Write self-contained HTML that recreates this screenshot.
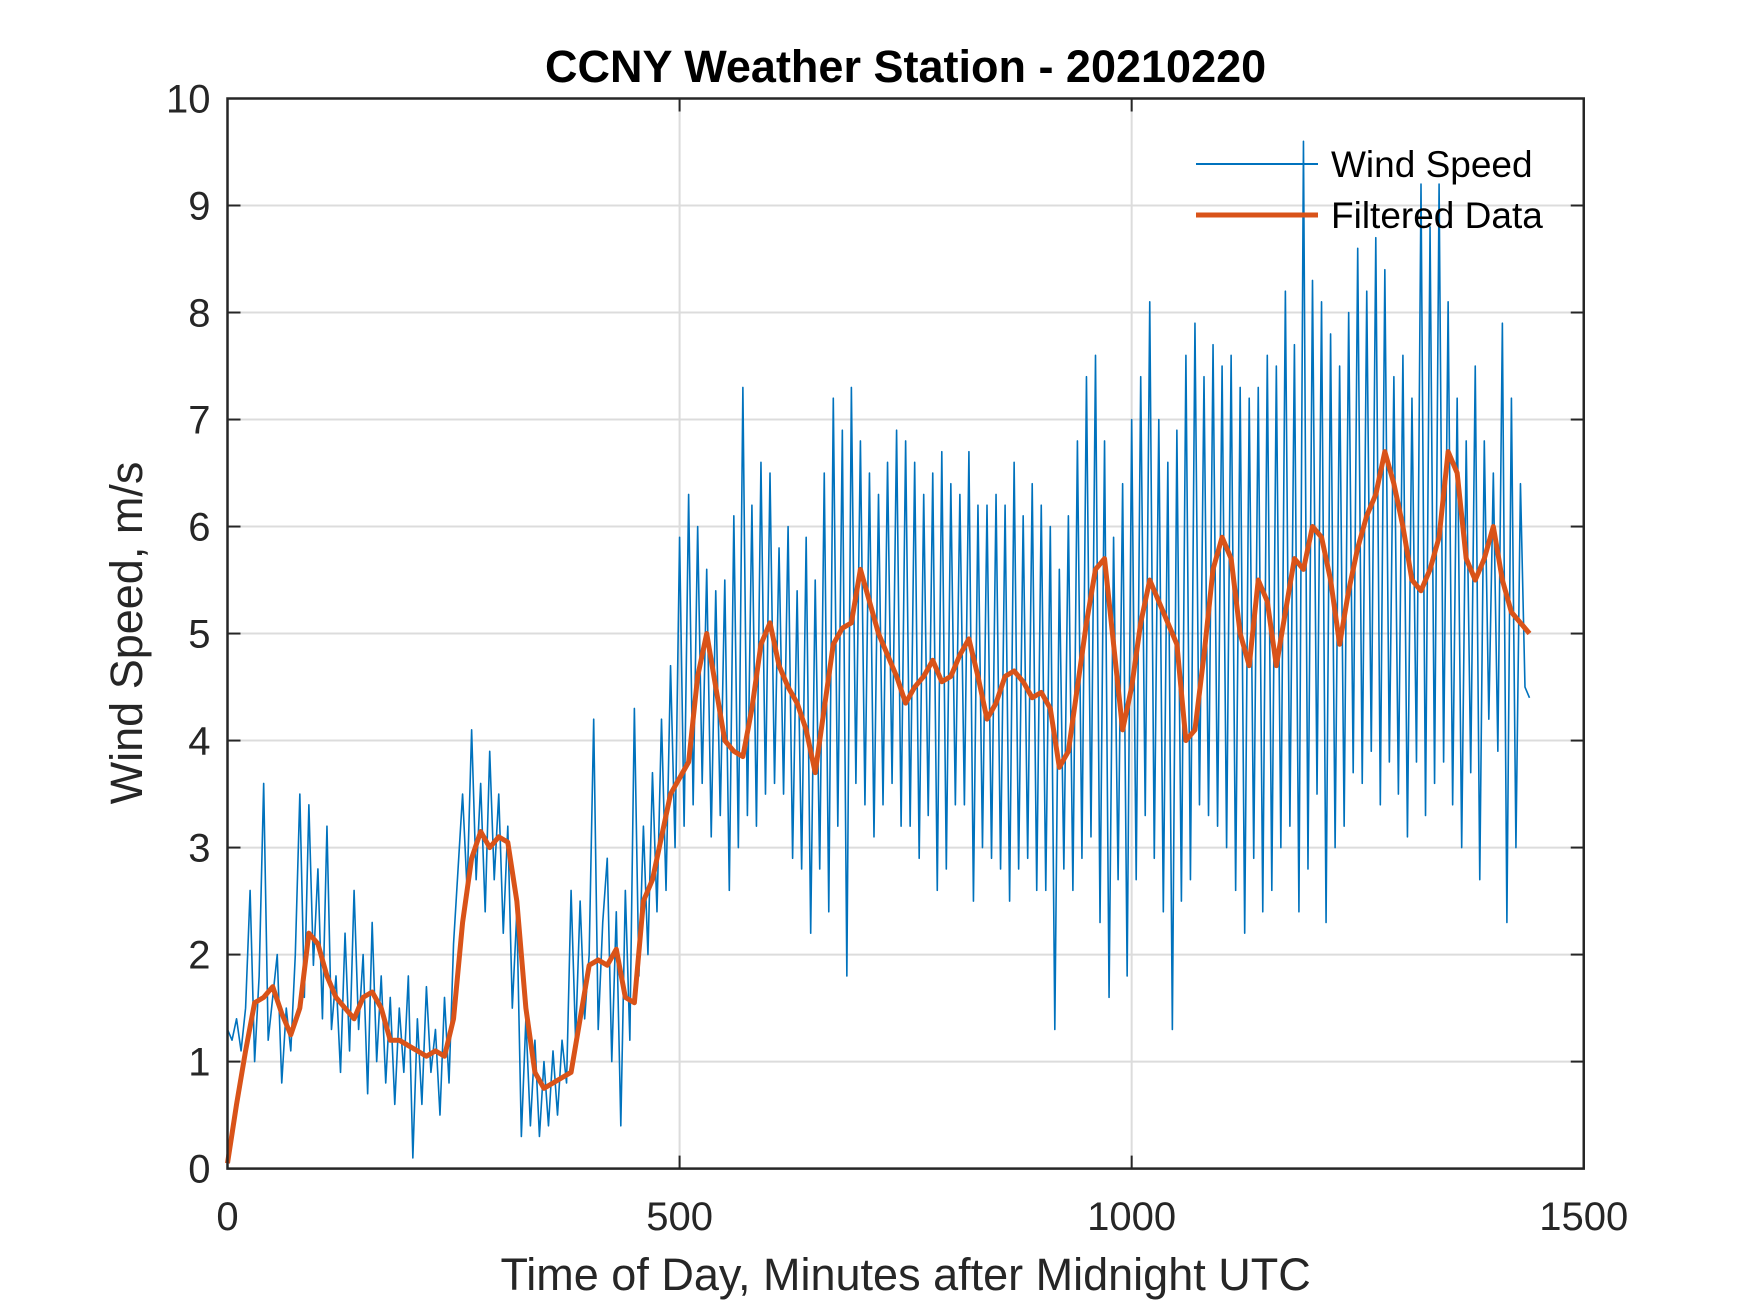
<!DOCTYPE html>
<html><head><meta charset="utf-8"><style>
html,body{margin:0;padding:0;background:#fff;}
svg{display:block;font-family:"Liberation Sans",Arial,sans-serif;}
</style></head><body>
<svg id="chart" width="1750" height="1313" viewBox="0 0 1750 1313" xmlns="http://www.w3.org/2000/svg">
<rect width="1750" height="1313" fill="#fff"/>
<g id="grid"></g>
<g id="series"></g>
<g id="axes"></g>
<text x="905.6" y="82" text-anchor="middle" font-weight="bold" font-size="45" fill="#000">CCNY Weather Station - 20210220</text>
<text x="905.6" y="1290" text-anchor="middle" font-size="45" fill="#262626">Time of Day, Minutes after Midnight UTC</text>
<text transform="translate(142,633) rotate(-90)" text-anchor="middle" font-size="45" fill="#262626">Wind Speed, m/s</text>
<g>
<line x1="1196" y1="164" x2="1318" y2="164" stroke="#0072BD" stroke-width="2"/>
<text x="1331" y="177" font-size="37" fill="#000">Wind Speed</text>
<line x1="1196" y1="215" x2="1318" y2="215" stroke="#D95319" stroke-width="5"/>
<text x="1331" y="228" font-size="37" fill="#000">Filtered Data</text>
</g>
</svg>
<script>
const xTicks=[0,500,1000,1500];
const yTicks=[0,1,2,3,4,5,6,7,8,9,10];
const rawStep=5;
const rawValues=[
1.3,1.2,1.4,1.1,1.5,2.6,1.0,1.8,3.6,1.2,1.6,2.0,
0.8,1.5,1.1,2.0,3.5,1.6,3.4,1.9,2.8,1.4,3.2,1.3,
1.8,0.9,2.2,1.1,2.6,1.3,2.0,0.7,2.3,1.0,1.8,0.8,
1.6,0.6,1.5,0.9,1.8,0.1,1.4,0.6,1.7,0.9,1.3,0.5,
1.6,0.8,2.1,2.8,3.5,2.6,4.1,2.7,3.6,2.4,3.9,2.7,
3.5,2.2,3.2,1.5,2.4,0.3,1.4,0.4,1.2,0.3,1.0,0.4,
1.1,0.5,1.2,0.8,2.6,1.2,2.5,1.4,2.0,4.2,1.3,2.3,
2.9,1.0,2.4,0.4,2.6,1.2,4.3,1.8,3.2,2.0,3.7,2.4,
4.2,2.6,4.7,3.0,5.9,3.2,6.3,3.4,6.0,3.6,5.6,3.1,
5.4,3.3,5.5,2.6,6.1,3.0,7.3,3.3,6.2,3.2,6.6,3.5,
6.5,3.6,5.8,3.5,6.0,2.9,5.4,2.8,5.9,2.2,5.5,2.8,
6.5,2.4,7.2,3.2,6.9,1.8,7.3,3.6,6.8,3.4,6.5,3.1,
6.3,3.4,6.6,3.6,6.9,3.2,6.8,3.2,6.6,2.9,6.3,3.3,
6.5,2.6,6.7,2.8,6.4,3.4,6.3,3.4,6.7,2.5,6.2,3.0,
6.2,2.9,6.3,2.8,6.2,2.5,6.6,2.8,6.1,2.9,6.4,2.6,
6.2,2.6,6.0,1.3,5.6,2.8,6.1,2.6,6.8,2.9,7.4,3.1,
7.6,2.3,6.8,1.6,5.9,2.7,6.4,1.8,7.0,2.7,7.4,3.3,
8.1,2.9,7.0,2.4,6.6,1.3,6.9,2.5,7.6,2.7,7.9,3.4,
7.4,3.3,7.7,3.2,7.5,3.0,7.6,2.6,7.3,2.2,7.2,2.9,
7.3,2.4,7.6,2.6,7.5,3.0,8.2,3.2,7.7,2.4,9.6,2.8,
8.3,3.5,8.1,2.3,7.8,3.0,7.5,3.2,8.0,3.7,8.6,3.6,
8.2,3.9,8.7,3.4,8.4,3.8,7.4,3.5,7.6,3.1,7.2,3.8,
9.2,3.3,8.8,3.6,9.2,3.8,8.1,3.4,7.2,3.0,6.8,3.7,
7.5,2.7,6.8,4.2,6.5,3.9,7.9,2.3,7.2,3.0,6.4,4.5,
4.4];
const filtStep=10;
const filtValues=[0.05,0.6,1.1,1.55,1.6,1.7,1.45,1.25,1.5,2.2,2.1,1.8,1.6,1.5,1.4,1.6,1.65,1.5,1.2,1.2,1.15,1.1,1.05,1.1,1.05,1.4,2.3,2.9,3.15,3.0,3.1,3.05,2.5,1.5,0.9,0.75,0.8,0.85,0.9,1.4,1.9,1.95,1.9,2.05,1.6,1.55,2.5,2.7,3.1,3.5,3.65,3.8,4.6,5.0,4.5,4.0,3.9,3.85,4.3,4.9,5.1,4.7,4.5,4.35,4.1,3.7,4.3,4.9,5.05,5.1,5.6,5.3,5.0,4.8,4.6,4.35,4.5,4.6,4.75,4.55,4.6,4.8,4.95,4.6,4.2,4.35,4.6,4.65,4.55,4.4,4.45,4.3,3.75,3.9,4.5,5.1,5.6,5.7,4.9,4.1,4.5,5.1,5.5,5.3,5.1,4.9,4.0,4.1,4.8,5.6,5.9,5.7,5.0,4.7,5.5,5.3,4.7,5.2,5.7,5.6,6.0,5.9,5.5,4.9,5.4,5.8,6.1,6.3,6.7,6.4,6.0,5.5,5.4,5.6,5.9,6.7,6.5,5.7,5.5,5.7,6.0,5.5,5.2,5.1,5.0];

const L=227.5,R=1583.75,T=98.5,B=1168.6;
const sx=v=>L+(v-0)/(1500-0)*(R-L);
const sy=v=>B-(v-0)/(10-0)*(B-T);
const NS='http://www.w3.org/2000/svg';
function mk(tag,attrs,parent){const e=document.createElementNS(NS,tag);for(const k in attrs)e.setAttribute(k,attrs[k]);parent.appendChild(e);return e;}
const grid=document.getElementById('grid'),axes=document.getElementById('axes'),series=document.getElementById('series');
xTicks.forEach(t=>{
 if(t>0&&t<1500){const g=mk('line',{x1:sx(t),x2:sx(t),y1:T,y2:B,stroke:'#dcdcdc','stroke-width':2},grid);
 
 }
 const a=mk('line',{x1:sx(t),x2:sx(t),y1:B,y2:B-13,stroke:'#262626','stroke-width':2},axes);
 
 
 const b=mk('line',{x1:sx(t),x2:sx(t),y1:T,y2:T+13,stroke:'#262626','stroke-width':2},axes);
 
 
 const tx=mk('text',{x:sx(t),y:1230,'text-anchor':'middle','font-size':40,fill:'#262626'},axes);
 tx.textContent=t;
 
 
});
yTicks.forEach(t=>{
 if(t>0&&t<10){const g=mk('line',{x1:L,x2:R,y1:sy(t),y2:sy(t),stroke:'#dcdcdc','stroke-width':2},grid);
 
 }
 const a=mk('line',{x1:L,x2:L+13,y1:sy(t),y2:sy(t),stroke:'#262626','stroke-width':2},axes);
 
 
 const b=mk('line',{x1:R,x2:R-13,y1:sy(t),y2:sy(t),stroke:'#262626','stroke-width':2},axes);
 
 
 const tx=mk('text',{x:L-17,y:sy(t)+14,'text-anchor':'end','font-size':40,fill:'#262626'},axes);
 tx.textContent=t;
 
 
});
const box=mk('rect',{x:L,y:T,width:R-L,height:B-T,fill:'none',stroke:'#262626','stroke-width':2.5},axes);


const raw=mk('polyline',{points:rawValues.map((v,i)=>sx(i*rawStep)+','+sy(v)).join(' '),fill:'none',stroke:'#0072BD','stroke-width':1.6,'stroke-linejoin':'round'},series);


const filt=mk('polyline',{points:filtValues.map((v,i)=>sx(i*filtStep)+','+sy(v)).join(' '),fill:'none',stroke:'#D95319','stroke-width':5,'stroke-linejoin':'round'},series);


</script>
</body></html>
